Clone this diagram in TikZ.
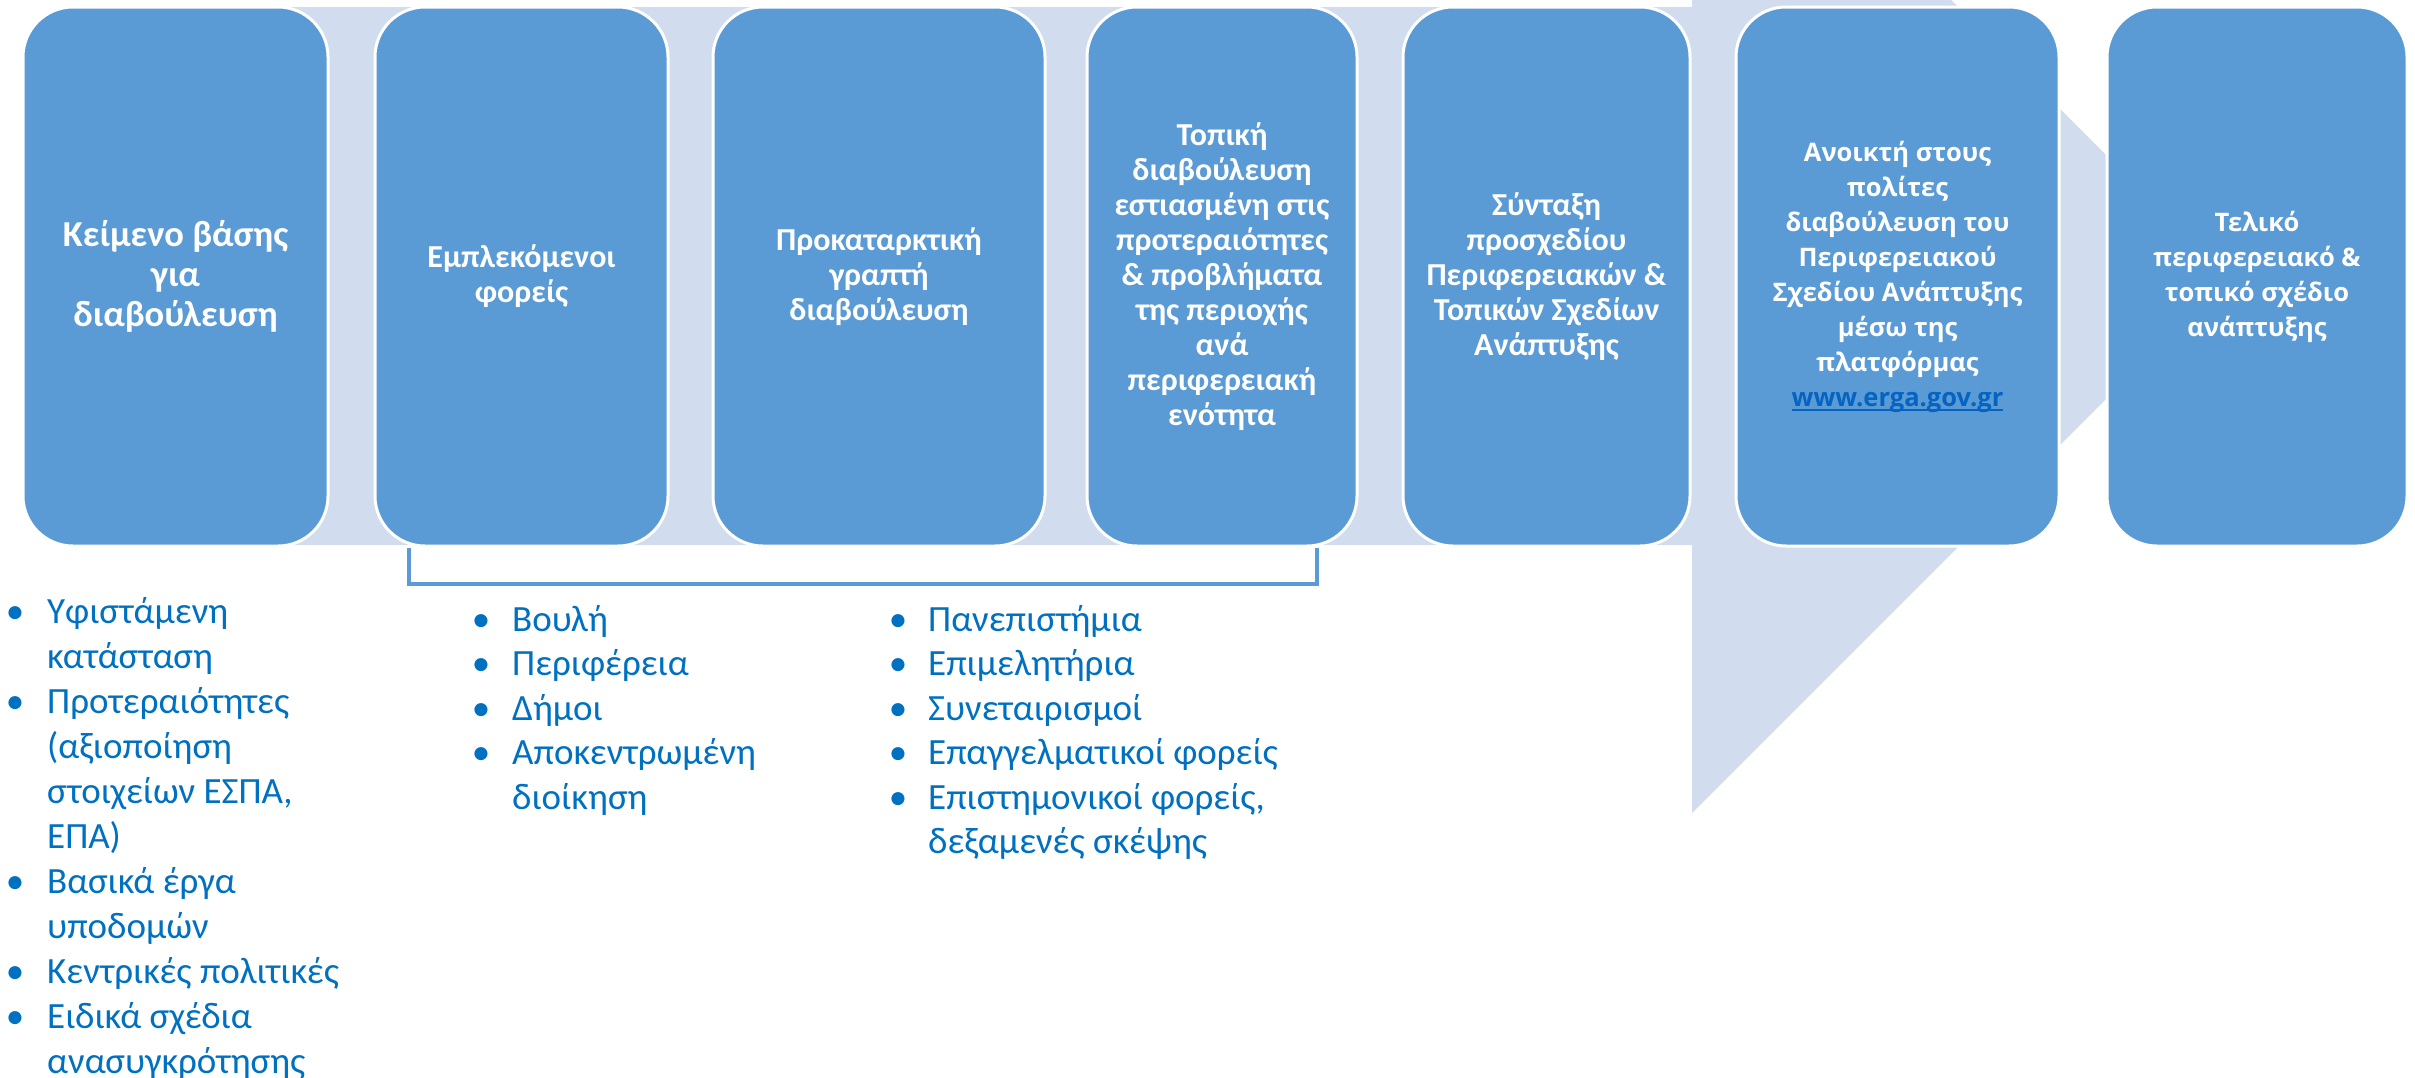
\documentclass[tikz,border=0pt]{standalone}
\usepackage{fontspec}
\setmainfont{Carlito}
\newfontfamily\osans{Open Sans}
\usetikzlibrary{calc}
\definecolor{boxblue}{HTML}{5B9BD5}
\definecolor{bandblue}{HTML}{D1DCEE}
\definecolor{listblue}{HTML}{0070C0}
\definecolor{linkblue}{HTML}{0563C1}
\newcommand\ulink[1]{\setbox0\hbox{#1}\rlap{\rule[-5pt]{\wd0}{2.5pt}}\box0}
\begin{document}
\begin{tikzpicture}[x=1pt,y=-1pt,
  stage/.style={draw=white, line width=3pt, fill=boxblue, rounded corners=50pt,
    text=white, align=center, inner sep=0pt, minimum height=539pt,
    font=\bfseries\fontsize{32}{35}\selectfont},
  stagebig/.style={stage, font=\bfseries\fontsize{36.5}{40}\selectfont},
  stageos/.style={stage, font=\osans\bfseries\fontsize{25.5}{35}\selectfont},
  lst/.style={text=listblue, inner sep=0pt, font=\fontsize{37}{45}\selectfont},
  bracketline/.style={draw=boxblue, line width=4pt}]
\useasboundingbox (0,0) rectangle (2415,1077);
\clip (0,0) rectangle (2415,1077);
% background arrow
\fill[bandblue] (175,7) -- (1692,7) -- (1692,-259) -- (2228,277) -- (1692,813)
  -- (1692,545) -- (175,545) -- cycle;
% stages
\node[stagebig, minimum width=305pt] (b1) at (175.5,276.5) {Κείμενο βάσης\\για\\διαβούλευση};
\node[stage, minimum width=293pt] (b2) at (521.5,276.5) {Εμπλεκόμενοι\\φορείς};
\node[stage, minimum width=332pt] (b3) at (879,276.5) {Προκαταρκτική\\γραπτή\\διαβούλευση};
\node[stage, minimum width=270pt] (b4) at (1222,276.5) {Τοπική\\διαβούλευση\\εστιασμένη στις\\προτεραιότητες\\\& προβλήματα\\της περιοχής\\ανά\\περιφερειακή\\ενότητα};
\node[stage, minimum width=287pt] (b5) at (1546.5,276.5) {Σύνταξη\\προσχεδίου\\Περιφερειακών \&\\Τοπικών Σχεδίων\\Ανάπτυξης};
\node[stageos, minimum width=323pt] (b6) at (1897.5,276.5) {Ανοικτή στους\\πολίτες\\διαβούλευση του\\Περιφερειακού\\Σχεδίου Ανάπτυξης\\μέσω της\\πλατφόρμας\\{\color{linkblue}\ulink{www.erga.gov.gr}}};
\node[stageos, minimum width=300pt] (b7) at (2257,276.5) {Τελικό\\περιφερειακό \&\\τοπικό σχέδιο\\ανάπτυξης};
% bracket
\coordinate (brA) at (409,584);
\coordinate (brB) at (1317,584);
\draw[bracketline] (b2.south -| brA) -- (brA) -- (brB) -- (b4.south -| brB);
% list 1
\foreach \t/\b [count=\i from 0] in {Υφιστάμενη/1, κατάσταση/0, Προτεραιότητες/1,
  {(αξιοποίηση}/0, {στοιχείων ΕΣΠΑ,}/0, {ΕΠΑ)}/0, Βασικά έργα/1, υποδομών/0,
  Κεντρικές πολιτικές/1, Ειδικά σχέδια/1, ανασυγκρότησης/0} {
  \node[lst, anchor=base west] (La\i) at (47,623+45*\i) {\t};
  \ifnum\b=1 \node[lst, anchor=base] (Lab\i) at (15,623+45*\i) {•};\fi
}
% list 2
\foreach \t/\b [count=\i from 0] in {Βουλή/1, Περιφέρεια/1, Δήμοι/1,
  Αποκεντρωμένη/1, διοίκηση/0} {
  \node[lst, anchor=base west] (Lb\i) at (512,631+44.5*\i) {\t};
  \ifnum\b=1 \node[lst, anchor=base] (Lbb\i) at (481,631+44.5*\i) {•};\fi
}
% list 3
\foreach \t/\b [count=\i from 0] in {Πανεπιστήμια/1, Επιμελητήρια/1, Συνεταιρισμοί/1,
  Επαγγελματικοί φορείς/1, {Επιστημονικοί φορείς,}/1, δεξαμενές σκέψης/0} {
  \node[lst, anchor=base west] (Lc\i) at (928,631+44.5*\i) {\t};
  \ifnum\b=1 \node[lst, anchor=base] (Lcb\i) at (898,631+44.5*\i) {•};\fi
}
\end{tikzpicture}
\end{document}
